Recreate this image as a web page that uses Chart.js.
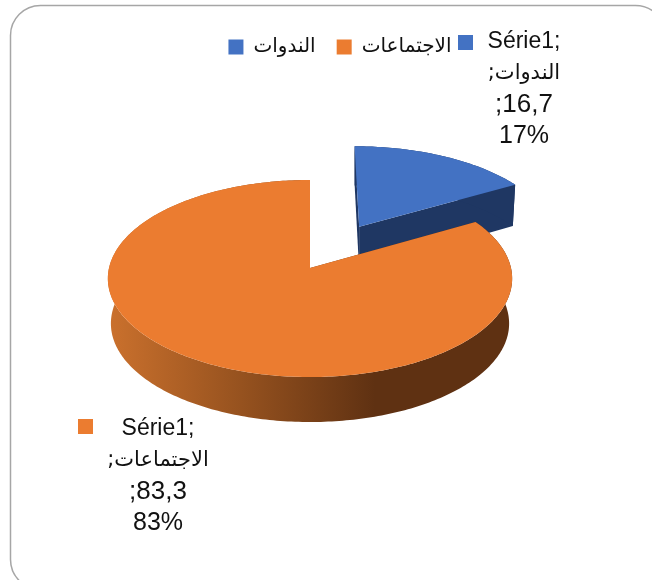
<!DOCTYPE html>
<html>
<head>
<meta charset="utf-8">
<style>
  html, body { margin: 0; padding: 0; background: #fff; }
  #pie3d { display: block; }
</style>
</head>
<body>
<canvas id="pie3d" width="652" height="580"></canvas>
<script src="https://cdn.jsdelivr.net/npm/chart.js@4"></script>
<script>
const seriesName = 'Série1';
const categories = ['الندوات', 'الاجتماعات'];
const values = [16.7, 83.3];
const sliceColors = ['#4372C3', '#EB7C30'];

// where the tilted pie sits on the page
const pieX = 310, pieY = 268, pieRx = 201, pieRy = 97.4;
const perspective = 0.1066;
const wallDrop = 45, wallSx = 0.985;

function topPoint(u, v) {
    const d = 1 - perspective * v;
    return [pieX + pieRx * u / d, pieY + pieRy * v / d];
}

// bottom rim of a slice, pulled in a little towards the slice's own tip
function bottomPoint(u, v, cu, cv) {
    const p = topPoint(u, v);
    const tipX = topPoint(cu, cv)[0];
    return [tipX + (p[0] - tipX) * wallSx, p[1] + wallDrop + 4 * Math.min(v, 0)];
}

function tracePath(ctx, pts) {
    ctx.beginPath();
    pts.forEach((p, i) => i ? ctx.lineTo(p[0], p[1]) : ctx.moveTo(p[0], p[1]));
    ctx.closePath();
}

const tiltedPie = {
    id: 'tiltedPie',
    beforeDatasetDraw(chart, args) {
        const ctx = chart.ctx;
        args.meta.data.forEach((arc, i) => {
            const mid = (arc.startAngle + arc.endAngle) / 2;
            const off = arc.options.offset / arc.outerRadius;
            const cu = Math.cos(mid) * off, cv = Math.sin(mid) * off;
            const rim = [];
            const steps = Math.ceil((arc.endAngle - arc.startAngle) * 60);
            for (let s = 0; s <= steps; s++) {
                const a = arc.startAngle + (arc.endAngle - arc.startAngle) * s / steps;
                rim.push([cu + Math.cos(a), cv + Math.sin(a)]);
            }
            const first = rim[0], last = rim[rim.length - 1];

            // side walls first, the lid goes on top of them
            let wall = '#1F3763';
            if (i === 1) {
                wall = ctx.createLinearGradient(107, 0, 375, 0);
                wall.addColorStop(0, '#CB712D');
                wall.addColorStop(0.5, '#96521F');
                wall.addColorStop(1, '#5F3112');
            }
            ctx.fillStyle = wall;
            [first, last].forEach(e => {
                tracePath(ctx, [topPoint(cu, cv), topPoint(e[0], e[1]), bottomPoint(e[0], e[1], cu, cv), bottomPoint(cu, cv, cu, cv)]);
                ctx.fill();
            });
            tracePath(ctx, rim.map(p => topPoint(p[0], p[1])).concat(rim.slice().reverse().map(p => bottomPoint(p[0], p[1], cu, cv))));
            ctx.fill();

            ctx.fillStyle = arc.options.backgroundColor;
            tracePath(ctx, [topPoint(cu, cv)].concat(rim.map(p => topPoint(p[0], p[1]))));
            ctx.fill();
        });
        return false;
    }
};

const sliceLabels = {
    id: 'sliceLabels',
    afterDraw(chart) {
        const ctx = chart.ctx;
        const total = values.reduce((a, b) => a + b, 0);
        const spots = [
            { box: [458, 35], x: 524, y: 42 },
            { box: [78, 419], x: 158, y: 429 }
        ];
        ctx.save();
        ctx.textAlign = 'center';
        ctx.textBaseline = 'middle';
        categories.forEach((cat, i) => {
            const s = spots[i];
            const lines = [
                [seriesName + ';', 'ltr', '23px "Liberation Sans"'],
                [cat + ';', 'rtl', '21px "DejaVu Sans"'],
                [String(values[i]).replace('.', ',') + ';', 'rtl', '26px "Liberation Sans"'],
                [Math.round(values[i] / total * 100) + '%', 'ltr', '25px "Liberation Sans"']
            ];
            ctx.fillStyle = sliceColors[i];
            ctx.fillRect(s.box[0], s.box[1], 15, 15);
            ctx.fillStyle = '#111';
            lines.forEach((l, n) => {
                ctx.direction = l[1];
                ctx.font = l[2];
                ctx.fillText(l[0], s.x, s.y + n * 31.4);
            });
        });
        ctx.restore();
    }
};

const frame = {
    id: 'frame',
    beforeDraw(chart) {
        const ctx = chart.ctx;
        ctx.save();
        ctx.strokeStyle = '#A6A6A6';
        ctx.lineWidth = 1.5;
        ctx.beginPath();
        ctx.roundRect(10.5, 5.5, 655, 584, 30);
        ctx.stroke();
        ctx.restore();
    }
};

new Chart(document.getElementById('pie3d'), {
    type: 'pie',
    data: {
        labels: categories,
        datasets: [{
            label: seriesName,
            data: values,
            backgroundColor: sliceColors,
            borderWidth: 0,
            offset: [104, 0]
        }]
    },
    plugins: [frame, tiltedPie, sliceLabels],
    options: {
        responsive: false,
        animation: false,
        layout: { padding: { top: 16, bottom: 2, left: 28, right: 0 } },
        plugins: {
            tooltip: { enabled: false },
            legend: {
                position: 'top',
                labels: {
                    boxWidth: 15,
                    boxHeight: 15,
                    padding: 21,
                    color: '#111',
                    font: { family: '"DejaVu Sans"', size: 20 }
                }
            }
        }
    }
});
</script>
</body>
</html>
